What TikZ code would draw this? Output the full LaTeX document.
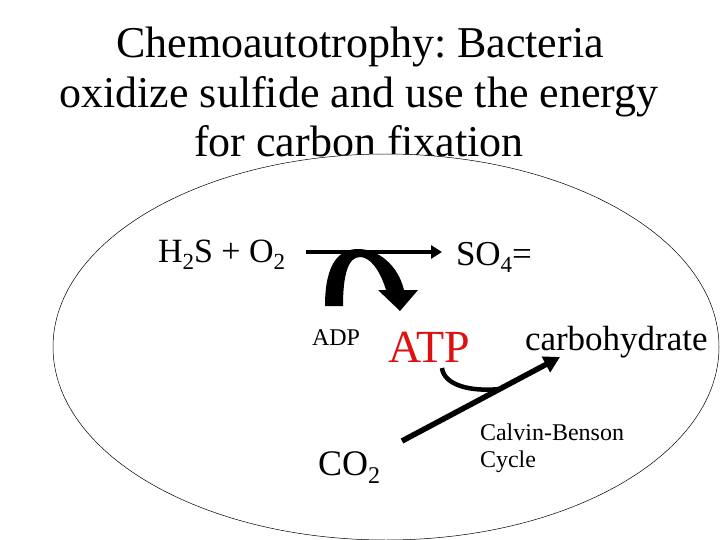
\documentclass[tikz,border=0pt]{standalone}
\usepackage{fontspec}
\setmainfont{Liberation Serif}
\usetikzlibrary{arrows.meta}
\frenchspacing
\definecolor{atpred}{RGB}{222,16,16}
\newcommand{\fs}[1]{\fontsize{#1}{#1}\selectfont}
\newcommand{\lowsub}[3]{\raisebox{-#1pt}{\fs{#2}#3}}
\tikzset{
  txt/.style={anchor=base west, inner sep=0pt, outer sep=0pt},
  ttl/.style={anchor=base, inner sep=0pt, font=\fs{44}},
}
\begin{document}
\begin{tikzpicture}[x=1pt,y=-1pt]
\useasboundingbox (0,0) rectangle (720,540);
% title
\node[ttl] (t1) at (360,58) {Chemoautotrophy: Bacteria};
\node[ttl] (t2) at (359,108) {oxidize sulfide and use the energy};
\node[ttl] (t3) at (359,157) {for carbon fixation};
% cell
\draw[fill=white, line width=0.5pt] (386,347) ellipse [x radius=333, y radius=193];
% texts
\node[txt, font=\fs{34}] (h2s) at (158,262) {H\lowsub{7}{23}{2}S + O\lowsub{7}{23}{2}};
\node[txt, font=\fs{35}] (so4) at (456,265) {SO\lowsub{7}{23}{4}=};
\node[txt, font=\fs{24}] (adp) at (312,345) {ADP};
\node[txt, font=\fs{46}, text=atpred] (atp) at (388,362) {ATP};
\node[txt, font=\fs{35}] (carb) at (525,350) {carbohydrate};
\node[txt, font=\fs{36}] (co2) at (318,475) {CO\lowsub{8}{24}{2}};
\node[txt, font=\fs{24}] (cb) at (480,440) {Calvin-Benson};
\node[txt, font=\fs{24}] (cy) at (480,467) {Cycle};
% connector end points
\coordinate (ha) at (306,252);
\coordinate (hb) at (442,252);
\coordinate (ca) at (402,441);
\coordinate (cb2) at (560,357);
\coordinate (aa) at (442,368);
\coordinate (am) at (500,389);
% horizontal arrow
\draw[line width=4pt, -{Triangle[length=11pt,width=13pt]}] (ha) -- (hb);
% thick curved arrow (ADP -> ATP)
\fill (325,306) .. controls (325,262) and (340,249) .. (358,249)
  .. controls (378,249) and (398,265) .. (404,290)
  -- (418,290) -- (400,311) -- (378,290) -- (386,290)
  .. controls (380,270) and (370,257) .. (360,257)
  .. controls (348,257) and (343,275) .. (343,306) -- cycle;
% Calvin-Benson arrow
\draw[line width=5.5pt, -{Triangle[length=16pt,width=17pt]}] (ca) -- (cb2);
% ATP feed
\draw[line width=4.5pt] (aa) .. controls (444,385) and (470,392) .. (am);
\end{tikzpicture}
\end{document}
